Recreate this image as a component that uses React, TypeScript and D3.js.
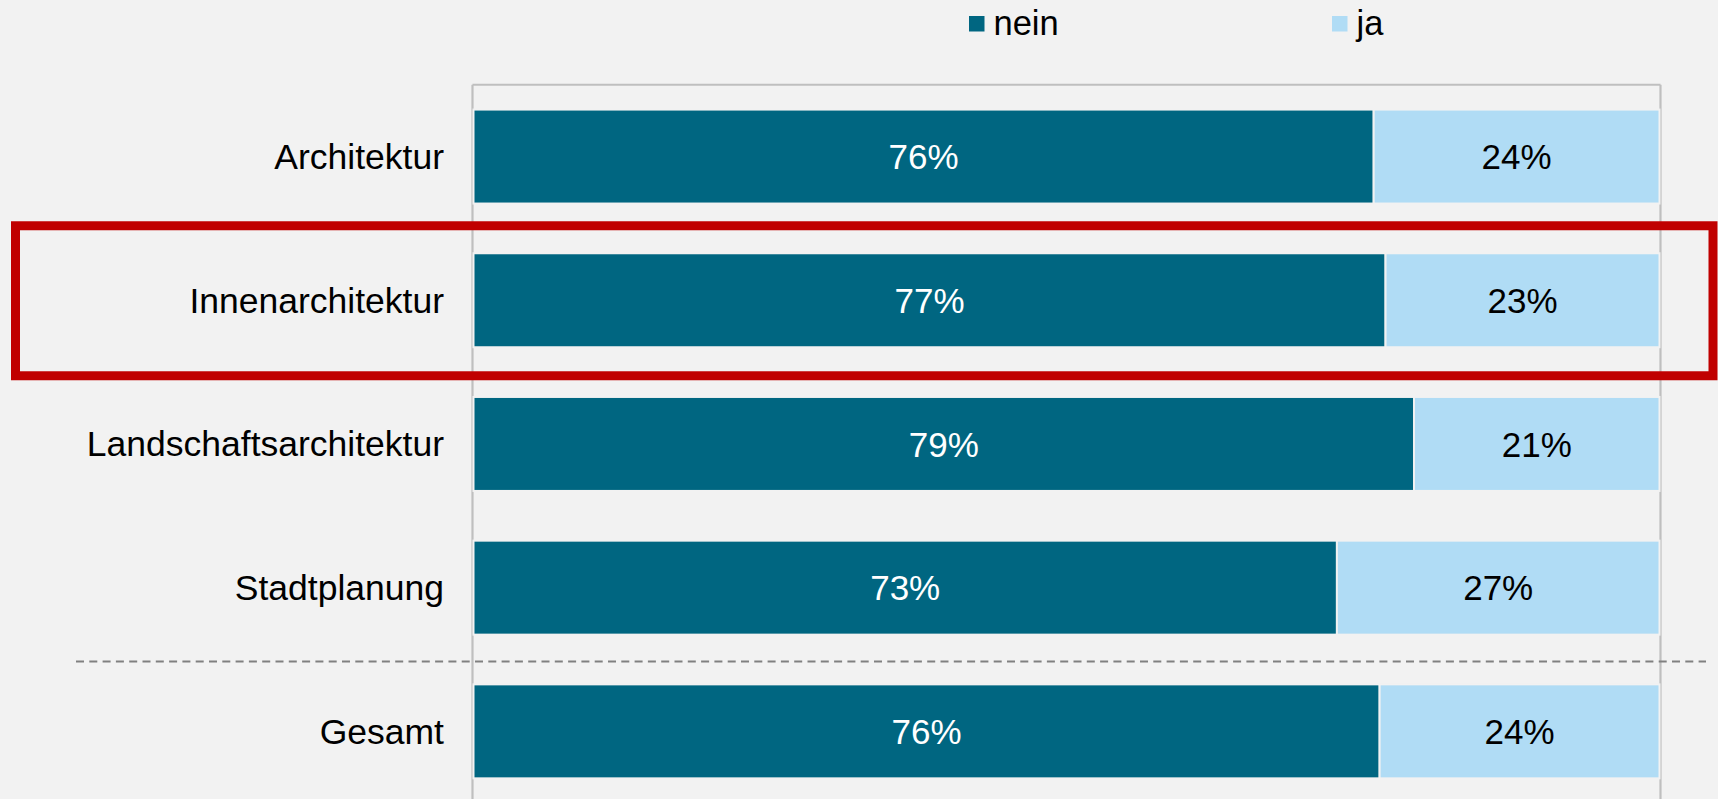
import React, { useEffect, useRef } from "react";
import * as d3 from "d3";

const categories = ["Architektur", "Innenarchitektur", "Landschaftsarchitektur", "Stadtplanung", "Gesamt"];
const nein = [75.9, 76.9, 79.3, 72.8, 76.4];
const ja = [24.1, 23.1, 20.7, 27.2, 23.6];
const seriesNames = ["nein", "ja"];
const colors = ["#006681", "#b0dcf5"];
const highlighted = "Innenarchitektur";

export default function App() {
  const ref = useRef<SVGSVGElement | null>(null);

  useEffect(() => {
    const width = 1718;
    const height = 799;
    const svg = d3.select(ref.current);
    svg.selectAll("*").remove();
    svg.attr("width", width).attr("height", height);

    const font = "'Liberation Sans', Arial, sans-serif";
    const top = 84.7;

    svg.append("rect").attr("width", width).attr("height", height).attr("fill", "#f2f2f2");

    const x = d3.scaleLinear().domain([0, 100]).range([473.5, 1659.5]);
    const y = d3.scaleBand<string>()
      .domain(categories)
      .range([top, top + 5 * 143.7])
      .paddingInner(0.346)
      .paddingOuter(0.173);

    // frame lines
    svg.append("line")
      .attr("x1", x(0) - 1).attr("x2", x(100) + 1)
      .attr("y1", top).attr("y2", top)
      .attr("stroke", "#bfbfbf").attr("stroke-width", 2);
    [x(0) - 1, x(100) + 1].forEach(xx => {
      svg.append("line")
        .attr("x1", xx).attr("x2", xx)
        .attr("y1", top).attr("y2", height)
        .attr("stroke", "#bfbfbf").attr("stroke-width", 2.2);
    });

    const rows = categories.map((c, i) => ({ name: c, values: [nein[i], ja[i]] }));

    const g = svg.selectAll("g.row").data(rows).enter().append("g").attr("class", "row");

    g.each(function (d) {
      const row = d3.select(this);
      let acc = 0;
      d.values.forEach((v, k) => {
        const x0 = x(acc);
        const x1 = x(acc + v);
        row.append("rect")
          .attr("x", x0)
          .attr("y", y(d.name)!)
          .attr("width", x1 - x0)
          .attr("height", y.bandwidth())
          .attr("fill", colors[k])
          .attr("stroke", "#f2f2f2")
          .attr("stroke-width", 2);
        row.append("text")
          .attr("x", (x0 + x1) / 2)
          .attr("y", y(d.name)! + y.bandwidth() / 2)
          .attr("dy", "0.36em")
          .attr("text-anchor", "middle")
          .attr("font-family", font)
          .attr("font-size", 35)
          .attr("fill", k === 0 ? "#ffffff" : "#000000")
          .text(Math.round(v) + "%");
        acc += v;
      });
      row.append("text")
        .attr("x", 444)
        .attr("y", y(d.name)! + y.bandwidth() / 2)
        .attr("dy", "0.35em")
        .attr("text-anchor", "end")
        .attr("font-family", font)
        .attr("font-size", 35.5)
        .attr("fill", "#000000")
        .text(d.name);
    });

    // separator before Gesamt
    const last = categories[categories.length - 1];
    const prev = categories[categories.length - 2];
    const sepY = (y(prev)! + y.bandwidth() + y(last)!) / 2 + 2;
    svg.append("line")
      .attr("x1", 76).attr("x2", 1706)
      .attr("y1", sepY).attr("y2", sepY)
      .attr("stroke", "#808080")
      .attr("stroke-width", 2)
      .attr("stroke-dasharray", "8 5.3");

    // legend
    const legendX = [969, 1332];
    seriesNames.forEach((s, i) => {
      svg.append("rect")
        .attr("x", legendX[i]).attr("y", 16)
        .attr("width", 15.5).attr("height", 15.5)
        .attr("fill", colors[i]);
      svg.append("text")
        .attr("x", legendX[i] + 24.5)
        .attr("y", 35)
        .attr("font-family", font)
        .attr("font-size", 34.5)
        .attr("fill", "#000000")
        .text(s);
    });

    // highlight box
    const hy = y(highlighted)!;
    svg.append("rect")
      .attr("x", 15.5)
      .attr("y", hy - 27.5)
      .attr("width", 1697.5)
      .attr("height", 150)
      .attr("fill", "none")
      .attr("stroke", "#c00000")
      .attr("stroke-width", 9);
  }, []);

  return (
    <div style={{ position: "absolute", left: 0, top: 0 }}>
      <svg ref={ref} style={{ display: "block" }} />
    </div>
  );
}
